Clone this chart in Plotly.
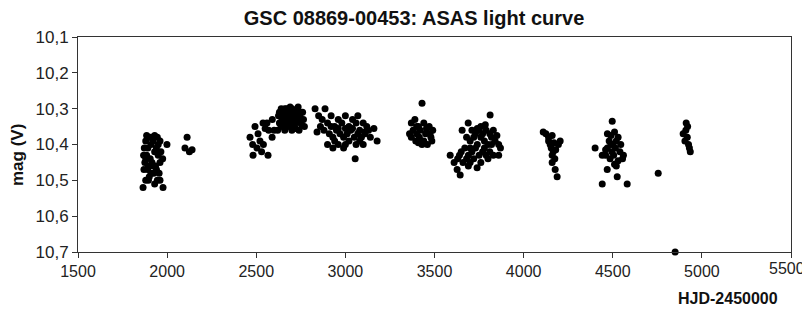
import plotly.graph_objects as go

# Cluster data (HJD-2450000, V mag)
hjd_a = [1865,1977,1880,1900,1945,1870,1890,1925,1955,1875,1895,1915,1935,1960,1868,1885,1905,1930,1950,1975,
         1872,1892,1910,1940,1965,1880,1900,1920,1945,1960,1885,1910,1930,1999,1950,1880,1920,1940,1895,1910,1930,1960,
         2112,2100,2140,2125]
mag_a = [10.52,10.52,10.50,10.49,10.50,10.47,10.47,10.48,10.48,10.45,10.46,10.45,10.46,10.45,10.43,10.43,10.44,10.42,10.43,10.44,
         10.41,10.41,10.40,10.41,10.42,10.39,10.38,10.39,10.38,10.39,10.375,10.38,10.375,10.40,10.40,10.44,10.46,10.47,10.50,10.48,10.51,10.50,
         10.38,10.41,10.415,10.42]

hjd_b = [2465,2493,2538,2550,2589,2504,2521,2482,2566,2510,2540,2570,2600,2480,2530,2590,2560]
mag_b = [10.38,10.35,10.34,10.355,10.38,10.41,10.39,10.43,10.43,10.37,10.40,10.36,10.36,10.40,10.42,10.33,10.34]

hjd_c = [2625,2640,2655,2670,2685,2700,2715,2730,2745,2760,2630,2645,2660,2675,2690,2705,2720,2735,2750,2765,
         2640,2660,2680,2700,2720,2740,2650,2680,2710,2740,2690,2660,2620,2770,2700,2670,2755,2735,2630]
mag_c = [10.32,10.30,10.31,10.30,10.31,10.30,10.31,10.30,10.32,10.31,10.34,10.33,10.34,10.33,10.34,10.33,10.34,10.33,10.34,10.33,
         10.35,10.36,10.35,10.36,10.355,10.36,10.32,10.32,10.32,10.31,10.295,10.30,10.36,10.35,10.345,10.345,10.345,10.295,10.31]

hjd_d = [2830,2886,2841,2850,2870,2900,2920,2940,2960,2980,3000,3020,3040,3060,3080,3100,3120,2880,2910,2930,
         2950,2970,2990,3010,3030,3050,3070,3090,3110,3130,2900,2940,2960,3000,3020,3060,3080,3100,2930,2990,
         3055,3178,3140,2860,3000,3040,2960,3160,3070,2920,3110]
mag_d = [10.30,10.30,10.365,10.32,10.33,10.34,10.32,10.35,10.33,10.34,10.32,10.35,10.33,10.34,10.36,10.34,10.35,10.36,10.37,10.38,
         10.36,10.37,10.38,10.37,10.36,10.38,10.37,10.38,10.37,10.36,10.40,10.39,10.40,10.40,10.39,10.40,10.39,10.40,10.41,10.41,
         10.44,10.39,10.38,10.35,10.355,10.355,10.355,10.355,10.32,10.35,10.365]

hjd_e = [3430,3370,3390,3410,3440,3470,3490,3380,3400,3420,3450,3480,3370,3395,3415,3440,3460,3485,3430,3400,3455,3475,3410,3360]
mag_e = [10.285,10.34,10.33,10.35,10.34,10.35,10.36,10.36,10.37,10.36,10.37,10.38,10.38,10.39,10.38,10.39,10.40,10.39,10.40,10.35,10.355,10.37,10.395,10.37]

hjd_f = [3812,3689,3655,3588,3627,3644,3739,3610,3630,3660,3680,3700,3720,3650,3670,3690,3710,3730,3750,3770,
         3790,3810,3830,3700,3720,3740,3760,3780,3800,3820,3840,3860,3710,3730,3750,3770,3790,3810,3830,3850,
         3760,3785,3740,3870,3860,3690,3640,3700,3780,3820,3760,3800,3680]
mag_f = [10.318,10.34,10.36,10.43,10.47,10.485,10.465,10.45,10.44,10.45,10.44,10.45,10.44,10.42,10.41,10.43,10.42,10.41,10.43,10.42,
         10.43,10.42,10.43,10.39,10.38,10.40,10.38,10.39,10.40,10.38,10.39,10.40,10.36,10.37,10.36,10.37,10.36,10.37,10.36,10.375,
         10.35,10.345,10.355,10.41,10.43,10.46,10.43,10.41,10.41,10.40,10.45,10.44,10.38]

hjd_g = [4110,4125,4140,4160,4205,4149,4170,4155,4166,4180,4160,4175,4160,4177,4188,4140,4195]
mag_g = [10.365,10.37,10.38,10.375,10.39,10.40,10.395,10.41,10.42,10.415,10.43,10.44,10.45,10.47,10.49,10.39,10.40]

hjd_h = [4497,4401,4441,4470,4490,4510,4530,4480,4500,4520,4545,4470,4495,4515,4540,4560,4460,4485,4505,4530,
         4555,4469,4525,4441,4581,4510,4520,4490,4460,4755,4850]
mag_h = [10.335,10.41,10.43,10.37,10.375,10.365,10.38,10.39,10.40,10.39,10.40,10.41,10.42,10.41,10.42,10.43,10.43,10.44,10.43,10.445,
         10.44,10.47,10.49,10.51,10.51,10.455,10.46,10.40,10.415,10.48,10.70]

hjd_i = [4912,4920,4895,4918,4905,4925,4935,4910,4930]
mag_i = [10.34,10.35,10.37,10.38,10.39,10.40,10.42,10.36,10.41]

x_ticks = [1500, 2000, 2500, 3000, 3500, 4000, 4500, 5000, 5500]
x_tick_labels = ["1500", "2000", "2500", "3000", "3500", "4000", "4500", "5000", "5500"]
y_ticks = [10.1, 10.2, 10.3, 10.4, 10.5, 10.6, 10.7]
y_tick_labels = ["10,1", "10,2", "10,3", "10,4", "10,5", "10,6", "10,7"]

hjd = hjd_a + hjd_b + hjd_c + hjd_d + hjd_e + hjd_f + hjd_g + hjd_h + hjd_i
mag = mag_a + mag_b + mag_c + mag_d + mag_e + mag_f + mag_g + mag_h + mag_i

fig = go.Figure()
fig.add_trace(go.Scatter(x=hjd, y=mag, mode="markers",
                         marker=dict(color="black", size=7, line=dict(width=0)),
                         showlegend=False, cliponaxis=False))

# the page body adds an 8px margin, so the figure is sized/offset to compensate
W, H = 802, 300
font = "Liberation Sans, Arial, sans-serif"
fig.update_layout(
    width=W, height=H,
    margin=dict(l=70, r=19, t=29, b=56, autoexpand=False),
    paper_bgcolor="white", plot_bgcolor="white",
    title=dict(text="<b>GSC 08869-00453: ASAS light curve</b>", x=406/W, xanchor="center",
               y=1 - 3/H, yanchor="top", pad=dict(t=0, b=0),
               font=dict(family=font, size=20, color="#111")),
    font=dict(family=font, color="#222"),
)
# last tick label is drawn right-aligned (as in the reference) so it stays inside the page
fig.update_xaxes(range=[1500, 5500], tickvals=x_ticks, ticktext=x_tick_labels[:-1] + [""],
                 ticks="outside", ticklen=5, tickcolor="#333",
                 showline=True, linecolor="#333", linewidth=1, mirror=True, showgrid=False, zeroline=False,
                 automargin=False, tickfont=dict(size=16, family=font, color="#222"))
fig.update_yaxes(range=[10.7, 10.1], tickvals=y_ticks, ticktext=y_tick_labels, ticks="outside", ticklen=5,
                 tickcolor="#333", showline=True, linecolor="#333", linewidth=1, mirror=True, showgrid=False,
                 zeroline=False, automargin=False, tickfont=dict(size=17, family=font, color="#222"))
fig.add_annotation(text=x_tick_labels[-1], xref="x", yref="paper", x=x_ticks[-1], y=0, yanchor="top",
                   xanchor="right", xshift=16, yshift=-6, showarrow=False,
                   font=dict(family=font, size=16, color="#222"))
pw, ph = W - 70 - 19, H - 29 - 56
fig.add_annotation(text="<b>HJD-2450000</b>", xref="paper", yref="paper", x=(720-70)/pw, y=-(290-244)/ph,
                   showarrow=False, xanchor="center", yanchor="middle", font=dict(family=font, size=16, color="#111"))
fig.add_annotation(text="<b>mag (V)</b>", xref="paper", yref="paper", x=-(70-9)/pw, y=(244-147)/ph,
                   showarrow=False, xanchor="center", yanchor="middle", textangle=-90,
                   font=dict(family=font, size=17, color="#111"))
fig.write_html("out.html")
